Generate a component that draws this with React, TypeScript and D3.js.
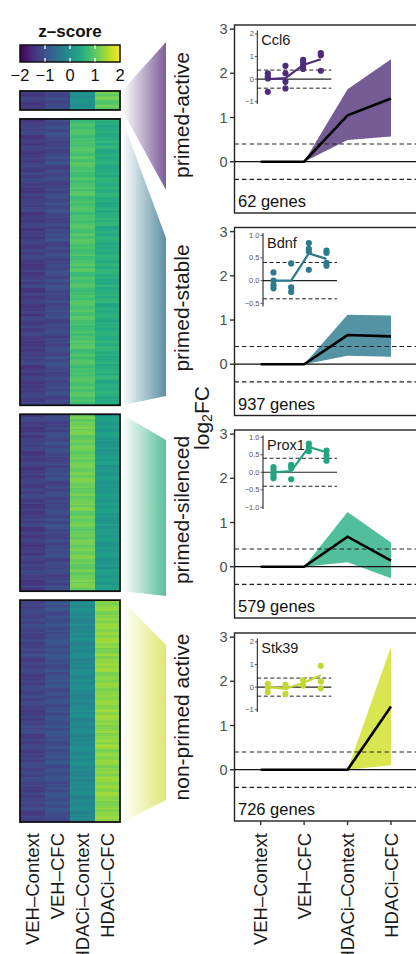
import React from "react";
import * as d3 from "d3";

// ---------- data ----------
const conditions = ["VEH–Context", "VEH–CFC", "HDACi–Context", "HDACi–CFC"];
const clusterNames = ["primed-active", "primed-stable", "primed-silenced", "non-primed active"];
const geneCounts = [62, 937, 579, 726];
const geneNames = ["Ccl6", "Bdnf", "Prox1", "Stk39"];

// heatmap column means (z-score) per cluster
const heatActive = [-1.28, -1.12, 0.0, 1.05];
const heatStable = [-1.28, -1.15, 0.85, 0.5];
const heatSilenced = [-1.28, -1.15, 1.1, 0.15];
const heatNonPrimed = [-1.22, -1.05, -0.12, 1.3];
// row-to-row variation read as a stripe pattern
const rowJitter = [0.06, -0.09, 0.03, 0.14, -0.04, -0.11, 0.08, 0.01, -0.15, 0.1, -0.03, 0.05, -0.07, 0.16, -0.1, 0.02, 0.09, -0.05, -0.13, 0.04, 0.11, -0.02, -0.08, 0.06, 0.14, -0.06, 0.0, -0.12, 0.08, 0.03, -0.04, 0.12, -0.1, 0.05, -0.14, 0.07, 0.02, -0.06, 0.1, -0.01, 0.13, -0.08, 0.04, -0.11, 0.07, -0.03, 0.11, -0.05];

// cluster mean log2FC with ribbon
const lineActive = [0, 0, 1.05, 1.43];
const upperActive = [0, 0, 1.64, 2.32];
const lowerActive = [0, 0, 0.49, 0.57];
const lineStable = [0, 0, 0.66, 0.63];
const upperStable = [0, 0, 1.12, 1.1];
const lowerStable = [0, 0, 0.19, 0.17];
const lineSilenced = [0, 0, 0.68, 0.14];
const upperSilenced = [0, 0, 1.24, 0.55];
const lowerSilenced = [0, 0, 0.1, -0.26];
const lineNonPrimed = [0, 0, 0, 1.43];
const upperNonPrimed = [0, 0, 0, 2.79];
const lowerNonPrimed = [0, 0, 0, 0.1];

// inset gene replicate points and means
const ccl6Points = [[0.26, 0.12, 0.03, -0.56], [0.59, 0.26, -0.12, -0.41], [0.85, 0.74, 0.59, 0.45], [1.15, 1.06, 0.37]];
const ccl6Mean = [0, 0.04, 0.63, 0.88];
const bdnfPoints = [[0.18, 0, -0.1, -0.17], [0.38, -0.15, -0.25], [0.83, 0.7, 0.64, 0.24], [0.66, 0.61, 0.39, 0.33]];
const bdnfMean = [0, 0, 0.6, 0.48];
const prox1Points = [[0.15, 0.08, -0.02, -0.1, -0.17], [0.21, 0.13, -0.2], [0.82, 0.72, 0.6], [0.62, 0.48, 0.33]];
const prox1Mean = [0, 0.03, 0.72, 0.57];
const stk39Points = [[0.15, 0, -0.22], [0.1, 0, -0.3], [0.3, 0.07], [0.94, 0.25, -0.05]];
const stk39Mean = [0, -0.07, 0.18, 0.52];

const insetDomains = [[-1.1, 2.15], [-0.57, 1.05], [-1.05, 1.05], [-1.1, 2.15]];
const insetTicks = [[-1, 0, 1, 2], [-0.5, 0, 0.5, 1], [-1, -0.5, 0, 0.5, 1], [-1, 0, 1, 2]];
const insetTickFmt = [d3.format("d"), d3.format(".1f"), d3.format(".1f"), d3.format("d")];
const mainTicks = [0, 1, 2, 3];
const legendTicks = [-2, -1, 0, 1, 2];
const threshold = 0.4;

// ---------- styling ----------
const FONT = "'Liberation Sans', Arial, Helvetica, sans-serif";
const ribbonColors = ["#765c94", "#5393a4", "#52be9c", "#d9e652"];
const dotColors = ["#4e2c7c", "#2b7a8f", "#25a57f", "#c3d833"];
const wedgeColors = ["#7c5d99", "#5a8fa3", "#5cbf9c", "#dfe773"];

const heatMeans = [heatActive, heatStable, heatSilenced, heatNonPrimed];
const lines = [lineActive, lineStable, lineSilenced, lineNonPrimed];
const uppers = [upperActive, upperStable, upperSilenced, upperNonPrimed];
const lowers = [lowerActive, lowerStable, lowerSilenced, lowerNonPrimed];
const insetPts = [ccl6Points, bdnfPoints, prox1Points, stk39Points];
const insetMeans = [ccl6Mean, bdnfMean, prox1Mean, stk39Mean];

export default function App() {
  const W = 416, H = 954;
  const color = d3.scaleSequential(d3.interpolateViridis).domain([-2, 2]);

  // heatmap layout
  const hmX0 = 20, hmX1 = 120;
  const hmCol = d3.scaleBand<number>().domain([0, 1, 2, 3]).range([hmX0, hmX1]);
  const hmTop = 91, hmBottom = 822, hmGap = 9;
  const totalGenes = d3.sum(geneCounts);
  const pxPerGene = (hmBottom - hmTop - hmGap * 3) / totalGenes;
  const blocks: { y0: number; y1: number }[] = [];
  let cy = hmTop;
  geneCounts.forEach((g) => {
    const h = g * pxPerGene;
    blocks.push({ y0: cy, y1: cy + h });
    cy += h + hmGap;
  });

  // right panels
  const panelTops = [25, 227.5, 430, 633];
  const panelH = 188;
  const panelX0 = 234.5, panelX1 = 417;
  const x = d3.scalePoint<string>().domain(conditions).range([260.7, 391]);

  // wedge right-side spans
  const wedgeRight = [[42, 190], [238, 396], [440, 596], [645, 800]];
  const labelCenters = [115, 308, 510, 717];
  const wedgeX0 = 122, wedgeX1 = 166;

  // legend
  const legX = d3.scaleLinear().domain([-2, 2]).range([20, 120]);

  return (
    <svg width={W} height={H} style={{ display: "block", position: "absolute", left: 0, top: 0 }} fontFamily={FONT}>
      <defs>
        <linearGradient id="leg" x1="0" x2="1" y1="0" y2="0">
          {d3.range(0, 1.0001, 0.1).map((t) => (
            <stop key={t} offset={t} stopColor={d3.interpolateViridis(t)} />
          ))}
        </linearGradient>
        {wedgeColors.map((c, i) => (
          <linearGradient key={i} id={`w${i}`} x1="0" x2="1" y1="0" y2="0">
            <stop offset="0" stopColor={c} stopOpacity={0} />
            <stop offset="1" stopColor={c} stopOpacity={1} />
          </linearGradient>
        ))}
      </defs>
      <rect width={W} height={H} fill="#fff" />

      {/* legend */}
      <text x={70} y={37} textAnchor="middle" fontWeight="bold" fontSize={17} fill="#111">z–score</text>
      <rect x={20} y={45} width={100} height={17} fill="url(#leg)" stroke="#111" strokeWidth={1.5} />
      {[-1, 0, 1].map((t) => (
        <g key={t}>
          <line x1={legX(t)} x2={legX(t)} y1={45.5} y2={49} stroke="#fff" strokeWidth={1.3} />
          <line x1={legX(t)} x2={legX(t)} y1={58} y2={61.5} stroke="#fff" strokeWidth={1.3} />
        </g>
      ))}
      {legendTicks.map((t) => (
        <text key={t} x={legX(t)} y={81} textAnchor="middle" fontSize={16.5} fill="#111">
          {t < 0 ? `−${-t}` : t}
        </text>
      ))}

      {/* wedges */}
      {blocks.map((b, i) => (
        <polygon
          key={i}
          points={`${wedgeX0},${b.y0} ${wedgeX1},${wedgeRight[i][0]} ${wedgeX1},${wedgeRight[i][1]} ${wedgeX0},${b.y1}`}
          fill={`url(#w${i})`}
        />
      ))}

      {/* heatmap */}
      {blocks.map((b, i) => {
        const nRows = Math.max(8, Math.round((b.y1 - b.y0) / 1.6));
        const rh = (b.y1 - b.y0) / nRows;
        return (
          <g key={i}>
            {d3.range(nRows).map((r) =>
              heatMeans[i].map((m, c) => (
                <rect
                  key={`${r}-${c}`}
                  x={hmCol(c)}
                  y={b.y0 + r * rh}
                  width={hmCol.bandwidth() + 0.3}
                  height={rh + 0.3}
                  fill={color(m + rowJitter[(r * 7 + c * 11 + i * 5) % rowJitter.length])}
                  shapeRendering="crispEdges"
                />
              ))
            )}
            <rect x={hmX0} y={b.y0} width={hmX1 - hmX0} height={b.y1 - b.y0} fill="none" stroke="#111" strokeWidth={1.8} />
          </g>
        );
      })}

      {/* heatmap x labels */}
      {conditions.map((c, j) => (
        <text
          key={c}
          transform={`translate(${(hmCol(j) as number) + hmCol.bandwidth() / 2},833) rotate(-90)`}
          textAnchor="end"
          dominantBaseline="central"
          fontSize={18.5}
          fill="#1a1a1a"
        >
          {c}
        </text>
      ))}

      {/* cluster labels */}
      {clusterNames.map((n, i) => (
        <text
          key={n}
          transform={`translate(181,${labelCenters[i]}) rotate(-90)`}
          textAnchor="middle"
          dominantBaseline="central"
          fontSize={21}
          fill="#1a1a1a"
        >
          {n}
        </text>
      ))}

      {/* y label */}
      <text transform="translate(201,418) rotate(-90)" textAnchor="middle" dominantBaseline="central" fontSize={21} fill="#1a1a1a">
        log<tspan fontSize={14} dy={6}>2</tspan><tspan dy={-6}>FC</tspan>
      </text>

      {/* panels */}
      {panelTops.map((top, i) => {
        const y = d3.scaleLinear().domain([-1.16, 3.093]).range([top + panelH, top]);
        const area = d3
          .area<number>()
          .x((_, k) => x(conditions[k]) as number)
          .y0((_, k) => y(lowers[i][k]))
          .y1((_, k) => y(uppers[i][k]));
        const line = d3
          .line<number>()
          .x((_, k) => x(conditions[k]) as number)
          .y((d) => y(d));

        // inset
        const axX = i === 1 || i === 2 ? 263 : 257.3;
        const iy = d3.scaleLinear().domain(insetDomains[i]).range([top + 79, top + 5.5]);
        const ix = d3.scalePoint<string>().domain(conditions).range([axX + 10.5, axX + 63.5]);
        const iLine = d3
          .line<number>()
          .x((_, k) => ix(conditions[k]) as number)
          .y((d) => iy(d));
        const lineEnd = axX + 74;

        return (
          <g key={i}>
            <rect x={panelX0} y={top} width={panelX1 - panelX0} height={panelH} fill="#fff" />
            {/* ribbon & reference lines */}
            <path d={area(lines[i]) as string} fill={ribbonColors[i]} />
            <line x1={panelX0} x2={panelX1} y1={y(0)} y2={y(0)} stroke="#111" strokeWidth={1.2} />
            <line x1={panelX0} x2={panelX1} y1={y(threshold)} y2={y(threshold)} stroke="#222" strokeWidth={1.1} strokeDasharray="4.5,3" />
            <line x1={panelX0} x2={panelX1} y1={y(-threshold)} y2={y(-threshold)} stroke="#222" strokeWidth={1.1} strokeDasharray="4.5,3" />
            <path d={line(lines[i]) as string} fill="none" stroke="#000" strokeWidth={2.6} />

            {/* inset */}
            <line x1={axX} x2={lineEnd} y1={iy(0)} y2={iy(0)} stroke="#222" strokeWidth={1.1} />
            <line x1={axX} x2={lineEnd} y1={iy(threshold)} y2={iy(threshold)} stroke="#222" strokeWidth={1} strokeDasharray="4,2.5" />
            <line x1={axX} x2={lineEnd} y1={iy(-threshold)} y2={iy(-threshold)} stroke="#222" strokeWidth={1} strokeDasharray="4,2.5" />
            <line x1={axX} x2={axX} y1={iy(insetDomains[i][0])} y2={iy(insetDomains[i][1])} stroke="#111" strokeWidth={1} />
            {insetTicks[i].map((t) => (
              <g key={t}>
                <line x1={axX - 2.5} x2={axX} y1={iy(t)} y2={iy(t)} stroke="#333" strokeWidth={0.8} />
                <text x={axX - 3.5} y={iy(t)} textAnchor="end" dominantBaseline="central" fontSize={7.5} fill="#555">
                  {insetTickFmt[i](t).replace("-", "−")}
                </text>
              </g>
            ))}
            <path d={iLine(insetMeans[i]) as string} fill="none" stroke={dotColors[i]} strokeWidth={2.2} />
            {insetPts[i].map((pts, k) =>
              pts.map((v, m) => (
                <circle key={`${k}-${m}`} cx={ix(conditions[k])} cy={iy(v)} r={3.1} fill={dotColors[i]} />
              ))
            )}
            <text x={axX + 4} y={top + 20} fontSize={14.5} fill="#1a1a1a">{geneNames[i]}</text>

            {/* gene count */}
            <text x={238} y={top + panelH - 6} fontSize={16.5} fill="#111">{`${geneCounts[i]} genes`}</text>

            {/* frame */}
            <rect x={panelX0} y={top} width={panelX1 - panelX0 + 5} height={panelH} fill="none" stroke="#222" strokeWidth={1.4} />

            {/* y axis ticks */}
            {mainTicks.map((t) => (
              <g key={t}>
                <line x1={230} x2={panelX0} y1={y(t)} y2={y(t)} stroke="#333" strokeWidth={1.4} />
                <text x={227.5} y={y(t)} textAnchor="end" dominantBaseline="central" fontSize={14.5} fill="#4d4d4d">{t}</text>
              </g>
            ))}
          </g>
        );
      })}

      {/* bottom x axis */}
      {conditions.map((c) => (
        <g key={c}>
          <line x1={x(c)} x2={x(c)} y1={panelTops[3] + panelH} y2={panelTops[3] + panelH + 4} stroke="#333" strokeWidth={1.4} />
          <text
            transform={`translate(${x(c)},833) rotate(-90)`}
            textAnchor="end"
            dominantBaseline="central"
            fontSize={18.5}
            fill="#1a1a1a"
          >
            {c}
          </text>
        </g>
      ))}
    </svg>
  );
}
